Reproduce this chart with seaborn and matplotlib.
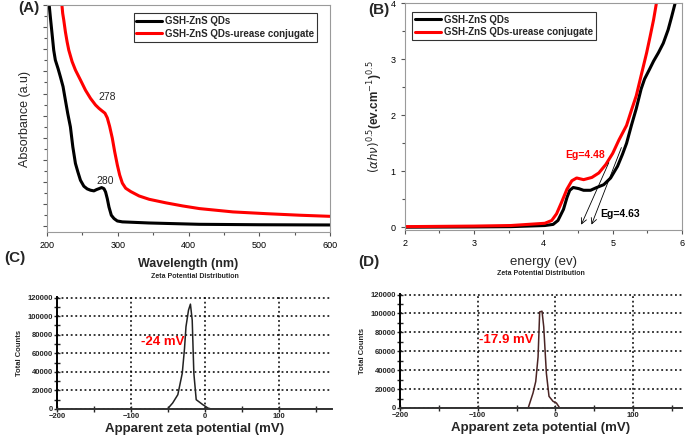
import numpy as np
import pandas as pd
import matplotlib
matplotlib.use('Agg')
import matplotlib.pyplot as plt
from matplotlib.ticker import MultipleLocator
import seaborn as sns

# (A) UV-vis absorbance
wl_qd = [202.4, 204.7, 207.1, 209.5, 211.8, 215.6, 218.9, 222.7, 226.0, 229.3, 233.1, 236.5,
         240.2, 243.6, 247.3, 252.1, 256.8, 261.5, 266.3, 270.1, 273.4, 277.2, 280.5, 282.8,
         285.2, 287.6, 290.9, 294.7, 299.4, 306.5, 344, 415, 500, 600]
abs_qd = [1.023, 0.947, 0.872, 0.796, 0.751, 0.713, 0.676, 0.631, 0.570, 0.510, 0.449, 0.359,
          0.284, 0.246, 0.208, 0.181, 0.169, 0.163, 0.160, 0.166, 0.170, 0.175, 0.170, 0.155,
          0.125, 0.087, 0.050, 0.035, 0.024, 0.020, 0.015, 0.009, 0.007, 0.006]
wl_conj = [220.4, 222.2, 223.7, 226.0, 228.4, 230.8, 235.5, 240.2, 247.3, 254.4, 261.5, 268.6,
           273.4, 277.2, 281.9, 285.2, 288.5, 292.3, 295.6, 299.4, 302.7, 306.5, 311.2, 318.3,
           330.2, 344.4, 368.0, 391.7, 415.4, 462.7, 510.1, 557.4, 600]
abs_conj = [1.023, 0.962, 0.932, 0.879, 0.834, 0.796, 0.744, 0.706, 0.661, 0.615, 0.578, 0.548,
            0.533, 0.523, 0.511, 0.490, 0.452, 0.398, 0.338, 0.277, 0.232, 0.195, 0.172, 0.157,
            0.137, 0.122, 0.106, 0.092, 0.080, 0.065, 0.057, 0.050, 0.045]

# (B) Tauc plot
e_qd = [2.0, 3.0, 3.53, 4.02, 4.14, 4.21, 4.29, 4.34, 4.38, 4.43, 4.51, 4.58, 4.68, 4.77,
        4.87, 4.97, 5.07, 5.14, 5.20, 5.27, 5.34, 5.41, 5.46, 5.53, 5.59, 5.66, 5.73, 5.80,
        5.85, 5.90]
t_qd = [0.0, 0.005, 0.01, 0.03, 0.05, 0.12, 0.32, 0.53, 0.66, 0.71, 0.69, 0.66, 0.66, 0.71,
        0.76, 0.88, 1.09, 1.30, 1.50, 1.82, 2.12, 2.47, 2.65, 2.82, 2.97, 3.12, 3.29, 3.53,
        3.76, 4.0]
e_conj = [2.0, 3.0, 3.53, 4.02, 4.12, 4.19, 4.26, 4.34, 4.41, 4.48, 4.58, 4.70, 4.80, 4.90,
          5.0, 5.09, 5.20, 5.27, 5.34, 5.41, 5.49, 5.54, 5.59, 5.63]
t_conj = [0.01, 0.02, 0.03, 0.07, 0.12, 0.24, 0.44, 0.68, 0.83, 0.88, 0.85, 0.89, 0.97, 1.12,
          1.32, 1.56, 1.82, 2.09, 2.35, 2.71, 3.12, 3.41, 3.71, 4.0]

# (C) zeta potential, QDs
zc_mv = [-51, -44, -37, -31, -28, -26, -22.6, -20, -17.6, -15.4, -12.2, -3.2, 3.6, 8, 170]
zc_counts = [0, 6400, 15400, 38600, 65000, 88600, 106400, 112900, 95700, 38600, 10000, 4600,
             1000, 0, 0]

# (D) zeta potential, conjugate
zd_mv = [-150, -35, -28.8, -25.3, -22.3, -20.2, -17.2, -15, -11.6, -8.2, -3, 1.3, 5.6, 160]
zd_counts = [0, 0, 15800, 28000, 54000, 101700, 102400, 86000, 36800, 12300, 7000, 5300, 0, 0]

sns.set_style('ticks')
plt.rcParams['font.family'] = ['Liberation Sans', 'DejaVu Sans']

fig = plt.figure(figsize=(6.85, 4.37), dpi=100)
axA = fig.add_axes([0.0686, 0.469, 0.4132, 0.5196])
axB = fig.add_axes([0.591, 0.4737, 0.4046, 0.5183])
axC = fig.add_axes([0.0832, 0.0641, 0.4015, 0.2563])
axD = fig.add_axes([0.584, 0.0664, 0.4116, 0.2608])

# ---- A
sns.lineplot(x=wl_qd, y=abs_qd, ax=axA, color='black', lw=2.2, label='GSH-ZnS QDs')
sns.lineplot(x=wl_conj, y=abs_conj, ax=axA, color='#ff0000', lw=2.2,
             label='GSH-ZnS QDs-urease conjugate')
axA.set_xlim(200, 600)
axA.set_ylim(-0.026, 1.0)
axA.xaxis.set_major_locator(MultipleLocator(100))
axA.xaxis.set_minor_locator(MultipleLocator(50))
axA.yaxis.set_major_locator(MultipleLocator(0.1))
axA.yaxis.set_minor_locator(MultipleLocator(0.05))
axA.set_yticklabels([])
axA.tick_params(axis='both', which='both', colors='#555555', labelcolor='black', labelsize=6.5,
                length=3, width=0.8)
axA.tick_params(axis='both', which='minor', length=2)
for s in axA.spines.values():
    s.set_color('#9a9a9a')
axA.set_xlabel('Wavelength (nm)', fontsize=9, fontweight='bold', labelpad=6)
axA.set_ylabel('Absorbance (a.u)', fontsize=9, labelpad=5)
axA.text(285, 0.585, '278', fontsize=7.5, ha='center', va='center')
axA.text(282, 0.205, '280', fontsize=7.5, ha='center', va='center')
legA = axA.legend(loc='upper right', bbox_to_anchor=(0.97, 0.985), fontsize=7, frameon=True,
                  fancybox=False, edgecolor='black', borderpad=0.3, labelspacing=0.25,
                  handlelength=2.6, handletextpad=0.3)
legA.get_frame().set_linewidth(0.8)
for t in legA.get_texts():
    t.set_fontweight('bold')

# ---- B
sns.lineplot(x=e_qd, y=t_qd, ax=axB, color='black', lw=2.2, label='GSH-ZnS QDs')
sns.lineplot(x=e_conj, y=t_conj, ax=axB, color='#ff0000', lw=2.2,
             label='GSH-ZnS QDs-urease conjugate')
axB.set_xlim(2, 6)
axB.set_ylim(-0.05, 4)
axB.xaxis.set_major_locator(MultipleLocator(1))
axB.xaxis.set_minor_locator(MultipleLocator(0.5))
axB.yaxis.set_major_locator(MultipleLocator(1))
axB.yaxis.set_minor_locator(MultipleLocator(0.5))
axB.tick_params(axis='both', which='both', colors='#555555', labelcolor='black', labelsize=6.5,
                length=3, width=0.8)
axB.tick_params(axis='both', which='minor', length=2)
for s in axB.spines.values():
    s.set_color('#9a9a9a')
axB.set_xlabel('energy (ev)', fontsize=9.5, labelpad=6)
axB.set_ylabel(r'$(\alpha h\nu)^{0.5}$(ev.cm$^{-1}$)$^{0.5}$', fontsize=8.5,
               fontweight='bold', labelpad=4)
axB.annotate('', xy=(4.53, 0.0), xytext=(4.96, 1.2),
             arrowprops=dict(arrowstyle='->', color='black', lw=0.6))
axB.annotate('', xy=(4.68, 0.0), xytext=(5.14, 1.47),
             arrowprops=dict(arrowstyle='->', color='black', lw=0.6))
axB.text(4.31, 1.29, 'Eg=4.48', color='#ff0000', fontsize=7.5, fontweight='bold',
         va='center')
axB.text(4.82, 0.23, 'Eg=4.63', color='black', fontsize=7.5, fontweight='bold',
         va='center')
legB = axB.legend(loc='upper left', bbox_to_anchor=(0.01, 0.985), fontsize=7, frameon=True,
                  fancybox=False, edgecolor='black', borderpad=0.3, labelspacing=0.25,
                  handlelength=2.6, handletextpad=0.3)
legB.get_frame().set_linewidth(0.8)
for t in legB.get_texts():
    t.set_fontweight('bold')


def zeta_axes(ax, xs, ys, color, label_txt, label_x, xmax):
    sns.lineplot(x=xs, y=ys, ax=ax, color=color, lw=1.1)
    ax.set_xlim(-200, xmax)
    ax.set_ylim(0, 120600)
    ax.xaxis.set_major_locator(MultipleLocator(100))
    ax.xaxis.set_minor_locator(MultipleLocator(50))
    ax.yaxis.set_major_locator(MultipleLocator(20000))
    ax.yaxis.set_minor_locator(MultipleLocator(10000))
    ax.grid(True, which='major', axis='both', linestyle=(0, (1.2, 1.8)), color='black', lw=1.1)
    ax.set_axisbelow(True)
    for side in ['top', 'right']:
        ax.spines[side].set_visible(False)
    ax.spines['left'].set_color('black')
    ax.spines['left'].set_linewidth(1.4)
    ax.spines['bottom'].set_color('#333333')
    ax.spines['bottom'].set_linewidth(1.4)
    ax.tick_params(axis='both', which='both', direction='inout', length=4, width=1.0,
                   labelsize=5.5, pad=1)
    for t in ax.get_xticklabels() + ax.get_yticklabels():
        t.set_fontweight('bold')
    ax.set_ylabel('Total Counts', fontsize=5.5, fontweight='bold', labelpad=3)
    ax.set_xlabel('Apparent zeta potential (mV)', fontsize=9.5, fontweight='bold', labelpad=2)
    ax.set_title('Zeta Potential Distribution', fontsize=5, fontweight='bold', pad=14)
    ax.text(label_x, 72000, label_txt, color='#ff0000', fontsize=9.5, fontweight='bold',
            ha='center', va='center')


zeta_axes(axC, zc_mv, zc_counts, '#222222', '-24 mV', -58, 171)
zeta_axes(axD, zd_mv, zd_counts, '#4a2424', '-17.9 mV', -63, 163)

fig.text(0.026, 0.982, '(A)', fontsize=11, fontweight='bold', ha='left', va='center')
fig.text(0.537, 0.977, '(B)', fontsize=11, fontweight='bold', ha='left', va='center')
fig.text(0.006, 0.41, '(C)', fontsize=11, fontweight='bold', ha='left', va='center')
fig.text(0.523, 0.40, '(D)', fontsize=11, fontweight='bold', ha='left', va='center')

fig.savefig('out.png', dpi=100)
